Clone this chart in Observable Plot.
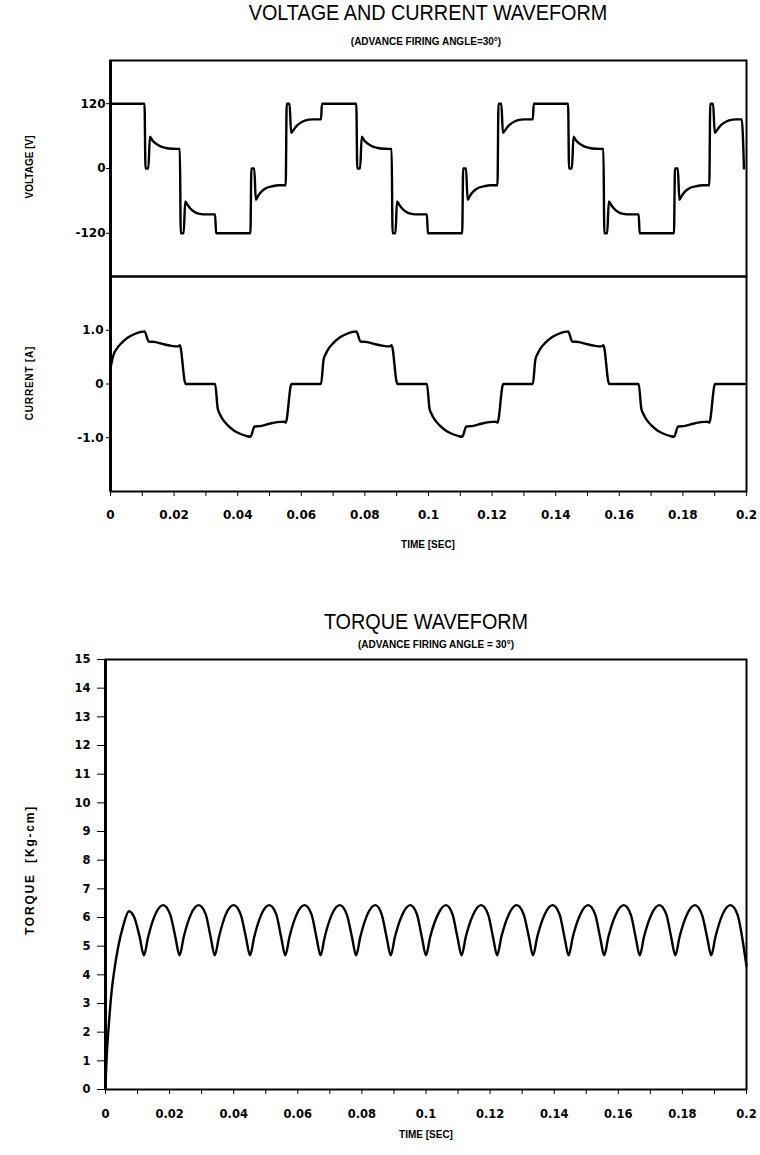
<!DOCTYPE html>
<html><head><meta charset="utf-8">
<script src="https://cdn.jsdelivr.net/npm/d3@7"></script>
<script src="https://cdn.jsdelivr.net/npm/@observablehq/plot@0.6"></script>
<style>
body{margin:0;background:#fff;}
#page{position:relative;width:760px;height:1155px;overflow:hidden;background:#fff;font-family:"Liberation Sans",Arial,sans-serif;color:#000}
.t{position:absolute;white-space:nowrap;text-align:center;line-height:1}
.b{font-weight:bold}
.plot{position:absolute;left:0}
</style></head>
<body><div id="page">
<div class="t" style="left:128px;width:600px;top:2px;font-size:22px;transform:scaleX(0.9)">VOLTAGE AND CURRENT WAVEFORM</div>
<div class="t b" style="left:226px;width:400px;top:37px;font-size:10px;">(ADVANCE FIRING ANGLE=30°)</div>
<div class="t b" style="left:-70px;width:200px;top:162px;font-size:10px;transform:rotate(-90deg)">VOLTAGE [V]</div>
<div class="t b" style="left:-70px;width:200px;top:378px;font-size:10px;letter-spacing:0.8px;transform:rotate(-90deg)">CURRENT [A]</div>
<div class="t b" style="left:228px;width:400px;top:540px;font-size:10px;">TIME [SEC]</div>
<div class="t" style="left:126px;width:600px;top:611px;font-size:22px;transform:scaleX(0.9)">TORQUE WAVEFORM</div>
<div class="t b" style="left:236px;width:400px;top:640px;font-size:10px;">(ADVANCE FIRING ANGLE = 30°)</div>
<div class="t b" style="left:-70px;width:200px;top:864px;font-size:12px;letter-spacing:1.8px;transform:rotate(-90deg)">TORQUE&nbsp;&nbsp;[Kg-cm]</div>
<div class="t b" style="left:226px;width:400px;top:1130px;font-size:10px;">TIME [SEC]</div>
<div id="pv" class="plot" style="top:50px"></div>
<div id="pc" class="plot" style="top:266px"></div>
<div id="pt" class="plot" style="top:649px"></div>
</div>
<script>
const xTicks = [0,0.01,0.02,0.03,0.04,0.05,0.06,0.07,0.08,0.09,0.1,0.11,0.12,0.13,0.14,0.15,0.16,0.17,0.18,0.19,0.2];
const xTickLabels = ["0","","0.02","","0.04","","0.06","","0.08","","0.1","","0.12","","0.14","","0.16","","0.18","","0.2"];
const voltageTicks = [120, 0, -120];
const currentTicks = [1, 0, -1];
const currentTickLabels = {"1": "1.0", "0": "0", "-1": "-1.0"};
const torqueTicks = [0,1,2,3,4,5,6,7,8,9,10,11,12,13,14,15];

// [time (s), voltage (V)]
const voltage = [
 [0,120],[0.0107,120],
 [0.0110,0],[0.0119,0],[0.0124,59],[0.0132,52],[0.0143,46],[0.0157,41],[0.0175,38],[0.0197,36.5],[0.0218,36],
 [0.0221,-120],[0.0230,-120],[0.0235,-61],[0.0242,-67],[0.0251,-74],[0.0263,-80],[0.0280,-84],[0.0303,-85],[0.0329,-85],
 [0.0332,-120],[0.0440,-120],
 [0.0443,0],[0.0452,0],[0.0457,-58],[0.0465,-50],[0.0476,-42],[0.0490,-36],[0.0508,-33],[0.0530,-31],[0.0551,-31],
 [0.0554,120],[0.0563,120],[0.0568,66],[0.0575,71],[0.0584,78],[0.0596,84],[0.0613,89],[0.0636,91],[0.0662,91],
 [0.0665,120],[0.0773,120],
 [0.0776,0],[0.0785,0],[0.0790,59],[0.0798,52],[0.0809,46],[0.0823,41],[0.0841,38],[0.0863,36.5],[0.0884,36],
 [0.0887,-120],[0.0896,-120],[0.0901,-61],[0.0908,-67],[0.0917,-74],[0.0929,-80],[0.0946,-84],[0.0969,-85],[0.0995,-85],
 [0.0998,-120],[0.1106,-120],
 [0.1109,0],[0.1118,0],[0.1123,-58],[0.1131,-50],[0.1142,-42],[0.1156,-36],[0.1174,-33],[0.1196,-31],[0.1217,-31],
 [0.1220,120],[0.1229,120],[0.1234,66],[0.1241,71],[0.1250,78],[0.1262,84],[0.1279,89],[0.1302,91],[0.1328,91],
 [0.1331,120],[0.1439,120],
 [0.1442,0],[0.1451,0],[0.1456,59],[0.1464,52],[0.1475,46],[0.1489,41],[0.1507,38],[0.1529,36.5],[0.1550,36],
 [0.1553,-120],[0.1562,-120],[0.1567,-61],[0.1574,-67],[0.1583,-74],[0.1595,-80],[0.1612,-84],[0.1635,-85],[0.1661,-85],
 [0.1664,-120],[0.1772,-120],
 [0.1775,0],[0.1784,0],[0.1789,-58],[0.1797,-50],[0.1808,-42],[0.1822,-36],[0.1840,-33],[0.1862,-31],[0.1883,-31],
 [0.1886,120],[0.1895,120],[0.1900,66],[0.1907,71],[0.1916,78],[0.1928,84],[0.1945,89],[0.1968,91],[0.1985,91],
 [0.1992,0]
];

// [time (s), current (A)]
const current = [
 [0,0.30],[0.0010,0.55],[0.0020,0.66],[0.0036,0.77],[0.0056,0.87],[0.0076,0.93],[0.0096,0.97],[0.0107,0.98],
 [0.0120,0.79],[0.0142,0.78],[0.0167,0.74],[0.0192,0.71],[0.0212,0.70],[0.0218,0.72],[0.0236,0],
 [0.0329,0],
 [0.0337,-0.45],[0.0343,-0.55],[0.0353,-0.66],[0.0369,-0.77],[0.0389,-0.87],[0.0409,-0.93],[0.0429,-0.97],[0.0440,-0.98],
 [0.0453,-0.79],[0.0475,-0.78],[0.0500,-0.74],[0.0525,-0.71],[0.0545,-0.70],[0.0551,-0.72],[0.0569,0],
 [0.0662,0],
 [0.0670,0.45],[0.0676,0.55],[0.0686,0.66],[0.0702,0.77],[0.0722,0.87],[0.0742,0.93],[0.0762,0.97],[0.0773,0.98],
 [0.0786,0.79],[0.0808,0.78],[0.0833,0.74],[0.0858,0.71],[0.0878,0.70],[0.0884,0.72],[0.0902,0],
 [0.0995,0],
 [0.1003,-0.45],[0.1009,-0.55],[0.1019,-0.66],[0.1035,-0.77],[0.1055,-0.87],[0.1075,-0.93],[0.1095,-0.97],[0.1106,-0.98],
 [0.1119,-0.79],[0.1141,-0.78],[0.1166,-0.74],[0.1191,-0.71],[0.1211,-0.70],[0.1217,-0.72],[0.1235,0],
 [0.1328,0],
 [0.1336,0.45],[0.1342,0.55],[0.1352,0.66],[0.1368,0.77],[0.1388,0.87],[0.1408,0.93],[0.1428,0.97],[0.1439,0.98],
 [0.1452,0.79],[0.1474,0.78],[0.1499,0.74],[0.1524,0.71],[0.1544,0.70],[0.1550,0.72],[0.1568,0],
 [0.1661,0],
 [0.1669,-0.45],[0.1675,-0.55],[0.1685,-0.66],[0.1701,-0.77],[0.1721,-0.87],[0.1741,-0.93],[0.1761,-0.97],[0.1772,-0.98],
 [0.1785,-0.79],[0.1807,-0.78],[0.1832,-0.74],[0.1857,-0.71],[0.1877,-0.70],[0.1883,-0.72],[0.1901,0],
 [0.1994,0]
];

// [time (s), torque (Kg-cm)]
const torque = [
 [0,0.2],[0.0004,1.2],[0.0010,2.2],[0.0018,3.3],[0.0028,4.2],[0.0040,5.0],[0.0055,5.7],[0.0073,6.22],[0.0090,6.0],[0.0106,5.35],
 [0.0120,4.68],[0.0133,5.32],[0.0155,6.10],[0.0180,6.43],[0.0202,6.10],[0.0218,5.32],
 [0.0231,4.68],[0.0244,5.32],[0.0266,6.10],[0.0291,6.43],[0.0313,6.10],[0.0328,5.32],
 [0.0341,4.68],[0.0354,5.32],[0.0375,6.10],[0.0400,6.43],[0.0422,6.10],[0.0438,5.32],
 [0.0451,4.68],[0.0464,5.32],[0.0486,6.10],[0.0511,6.43],[0.0533,6.10],[0.0548,5.32],
 [0.0561,4.68],[0.0574,5.32],[0.0596,6.10],[0.0621,6.43],[0.0643,6.10],[0.0658,5.32],
 [0.0671,4.68],[0.0684,5.32],[0.0706,6.10],[0.0731,6.43],[0.0753,6.10],[0.0769,5.32],
 [0.0782,4.68],[0.0795,5.32],[0.0817,6.10],[0.0842,6.43],[0.0862,6.10],[0.0877,5.32],
 [0.0890,4.68],[0.0903,5.32],[0.0926,6.10],[0.0951,6.43],[0.0972,6.10],[0.0987,5.32],
 [0.1000,4.68],[0.1013,5.32],[0.1037,6.10],[0.1062,6.43],[0.1083,6.10],[0.1098,5.32],
 [0.1111,4.68],[0.1124,5.32],[0.1147,6.10],[0.1172,6.43],[0.1194,6.10],[0.1209,5.32],
 [0.1222,4.68],[0.1235,5.32],[0.1258,6.10],[0.1283,6.43],[0.1305,6.10],[0.1321,5.32],
 [0.1334,4.68],[0.1347,5.32],[0.1370,6.10],[0.1395,6.43],[0.1417,6.10],[0.1432,5.32],
 [0.1445,4.68],[0.1458,5.32],[0.1481,6.10],[0.1506,6.43],[0.1528,6.10],[0.1543,5.32],
 [0.1556,4.68],[0.1569,5.32],[0.1592,6.10],[0.1617,6.43],[0.1639,6.10],[0.1654,5.32],
 [0.1667,4.68],[0.1680,5.32],[0.1703,6.10],[0.1728,6.43],[0.1750,6.10],[0.1765,5.32],
 [0.1778,4.68],[0.1791,5.32],[0.1814,6.10],[0.1839,6.43],[0.1861,6.10],[0.1877,5.32],
 [0.1890,4.68],[0.1903,5.32],[0.1925,6.10],[0.1950,6.43],[0.1972,6.10],[0.1988,5.2],[0.2000,4.3]
];

const baseStyle = {background: "transparent", overflow: "visible", fontFamily: "'DejaVu Sans', sans-serif", fontWeight: "bold", fontSize: "12px", color: "black"};
const xLabel = d => xTickLabels[Math.round(d * 100)];
const lineStyle = {x: d => d[0], y: d => d[1], stroke: "black", strokeWidth: 2.4, curve: "monotone-x"};

const pv = Plot.plot({
  width: 760, height: 226, marginTop: 10, marginBottom: 0, marginLeft: 110, marginRight: 14,
  style: baseStyle,
  x: {domain: [0, 0.2], axis: null},
  y: {domain: [-200, 200], ticks: voltageTicks, tickSize: 4, tickPadding: 1, tickFormat: d => String(d), label: null},
  marks: [
    Plot.frame({stroke: "black", strokeWidth: 2}),
    Plot.ruleX([0], {stroke: "black", strokeWidth: 3}),
    Plot.line(voltage, lineStyle)
  ]
});
document.getElementById("pv").appendChild(pv);

const pc = Plot.plot({
  width: 760, height: 295, marginTop: 10, marginBottom: 70, marginLeft: 110, marginRight: 14,
  style: baseStyle,
  x: {domain: [0, 0.2], ticks: xTicks, tickSize: 5, tickPadding: 14, tickFormat: xLabel, label: null},
  y: {domain: [-2, 2], ticks: currentTicks, tickSize: 4, tickPadding: 3, tickFormat: d => currentTickLabels[String(d)], label: null},
  marks: [
    Plot.frame({stroke: "black", strokeWidth: 2}),
    Plot.ruleX([0], {stroke: "black", strokeWidth: 3}),
    Plot.line(current, lineStyle)
  ]
});
document.getElementById("pc").appendChild(pc);

const pt = Plot.plot({
  width: 760, height: 500, marginTop: 10, marginBottom: 60, marginLeft: 105, marginRight: 14,
  style: {...baseStyle, fontSize: "11.5px"},
  x: {domain: [0, 0.2], ticks: xTicks, tickSize: 5, tickPadding: 15, tickFormat: xLabel, label: null},
  y: {domain: [0, 15], ticks: torqueTicks, tickSize: 8, tickPadding: 7, tickFormat: d => String(d), label: null},
  marks: [
    Plot.frame({stroke: "black", strokeWidth: 2}),
    Plot.ruleX([0], {stroke: "black", strokeWidth: 3}),
    Plot.line(torque, lineStyle)
  ]
});
document.getElementById("pt").appendChild(pt);
</script>
</body></html>
